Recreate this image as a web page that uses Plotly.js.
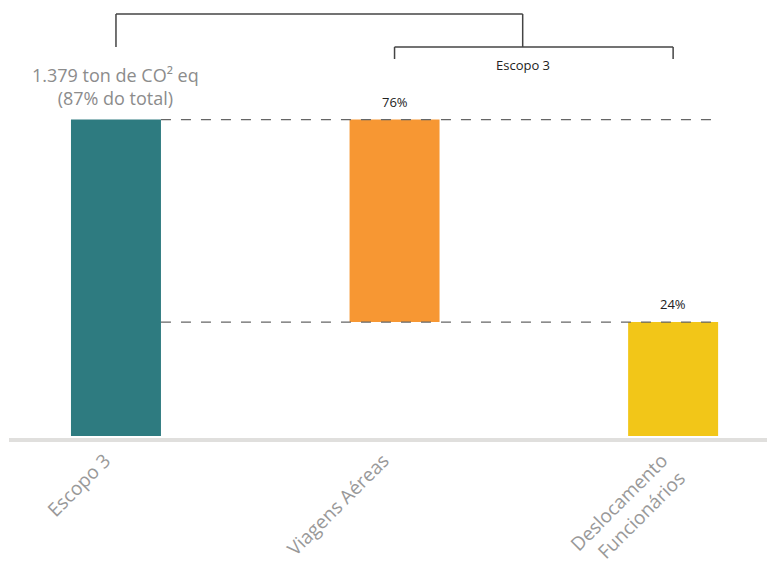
<!DOCTYPE html>
<html>
<head>
<meta charset="utf-8">
<script src="https://cdn.plot.ly/plotly-3.0.1.min.js"></script>
<style>html,body{margin:0;padding:0;background:#fff}#chart{width:767px;height:566px}</style>
</head>
<body>
<div id="chart"></div>
<script>
// Data (bar heights as drawn, in % of the Escopo 3 total)
const categories = ['Escopo 3', 'Viagens Aéreas', 'Deslocamento<br>Funcionários'];
const barBases = [0, 36, 0];
const barHeights = [100, 64, 36];
const barColors = ['#2e7b80', '#f79733', '#f2c618'];
const valueLabels = ['1.379 ton de CO² eq<br>(87% do total)', '76%', '24%'];
const groupLabel = 'Escopo 3';

const xIdx = categories.map((_, i) => i);
const barWidth = 0.323;
const tops = barHeights.map((h, i) => h + barBases[i]);

const trace = {
  type: 'bar',
  x: xIdx,
  y: barHeights,
  base: barBases,
  width: barWidth,
  marker: {color: barColors, line: {width: 0}},
  hoverinfo: 'skip'
};

const H = 566 - 128; // plot area height (t=0)
const py = p => 1 - p / H;

const annotations = valueLabels.map((t, i) => ({
  x: i, y: tops[i], xref: 'x', yref: 'y',
  text: t, showarrow: false, yanchor: 'bottom',
  yshift: i === 0 ? 8 : 7,
  font: i === 0 ? {size: 18, color: '#8c8c8c'} : {size: 13, color: '#222'}
}));
annotations.push({
  x: 1.46, y: py(65), xref: 'x', yref: 'paper', yanchor: 'middle',
  text: groupLabel, showarrow: false, font: {size: 13, color: '#222'}
});

const lineStyle = {color: '#444', width: 1.5};
const dashStyle = {color: '#666', width: 1.3, dash: '10px,10px'};
const half = barWidth / 2;
const shapes = [
  {type: 'line', xref: 'x', yref: 'y', x0: half, x1: 2 + half, y0: tops[0], y1: tops[0], line: dashStyle},
  {type: 'line', xref: 'x', yref: 'y', x0: half, x1: 2 + half, y0: tops[2], y1: tops[2], line: dashStyle},
  {type: 'line', xref: 'x', yref: 'paper', x0: 0, x1: 1.46, y0: py(14), y1: py(14), line: lineStyle},
  {type: 'line', xref: 'x', yref: 'paper', x0: 0, x1: 0, y0: py(14), y1: py(47), line: lineStyle},
  {type: 'line', xref: 'x', yref: 'paper', x0: 1.46, x1: 1.46, y0: py(14), y1: py(47), line: lineStyle},
  {type: 'line', xref: 'x', yref: 'paper', x0: 1, x1: 2, y0: py(47), y1: py(47), line: lineStyle},
  {type: 'line', xref: 'x', yref: 'paper', x0: 1, x1: 1, y0: py(47), y1: py(59), line: lineStyle},
  {type: 'line', xref: 'x', yref: 'paper', x0: 2, x1: 2, y0: py(47), y1: py(59), line: lineStyle}
];

const layout = {
  width: 767, height: 566,
  margin: {l: 9, r: 0, t: 0, b: 128},
  paper_bgcolor: '#fff', plot_bgcolor: '#fff',
  font: {family: 'Open Sans, sans-serif'},
  showlegend: false,
  xaxis: {
    range: [-0.384, 2.337],
    tickmode: 'array', tickvals: xIdx, ticktext: categories,
    tickangle: -45,
    tickfont: {size: 19, color: '#999999'},
    ticklabelshift: -11,
    showline: true, linecolor: '#e0dfdd', linewidth: 4,
    showgrid: false, zeroline: false, ticks: '',
    fixedrange: true
  },
  yaxis: {
    range: [-0.63, 137.8],
    showticklabels: false, showgrid: false, zeroline: false, showline: false,
    fixedrange: true
  },
  shapes: shapes,
  annotations: annotations
};

Plotly.newPlot('chart', [trace], layout, {displayModeBar: false, staticPlot: true});
</script>
</body>
</html>
